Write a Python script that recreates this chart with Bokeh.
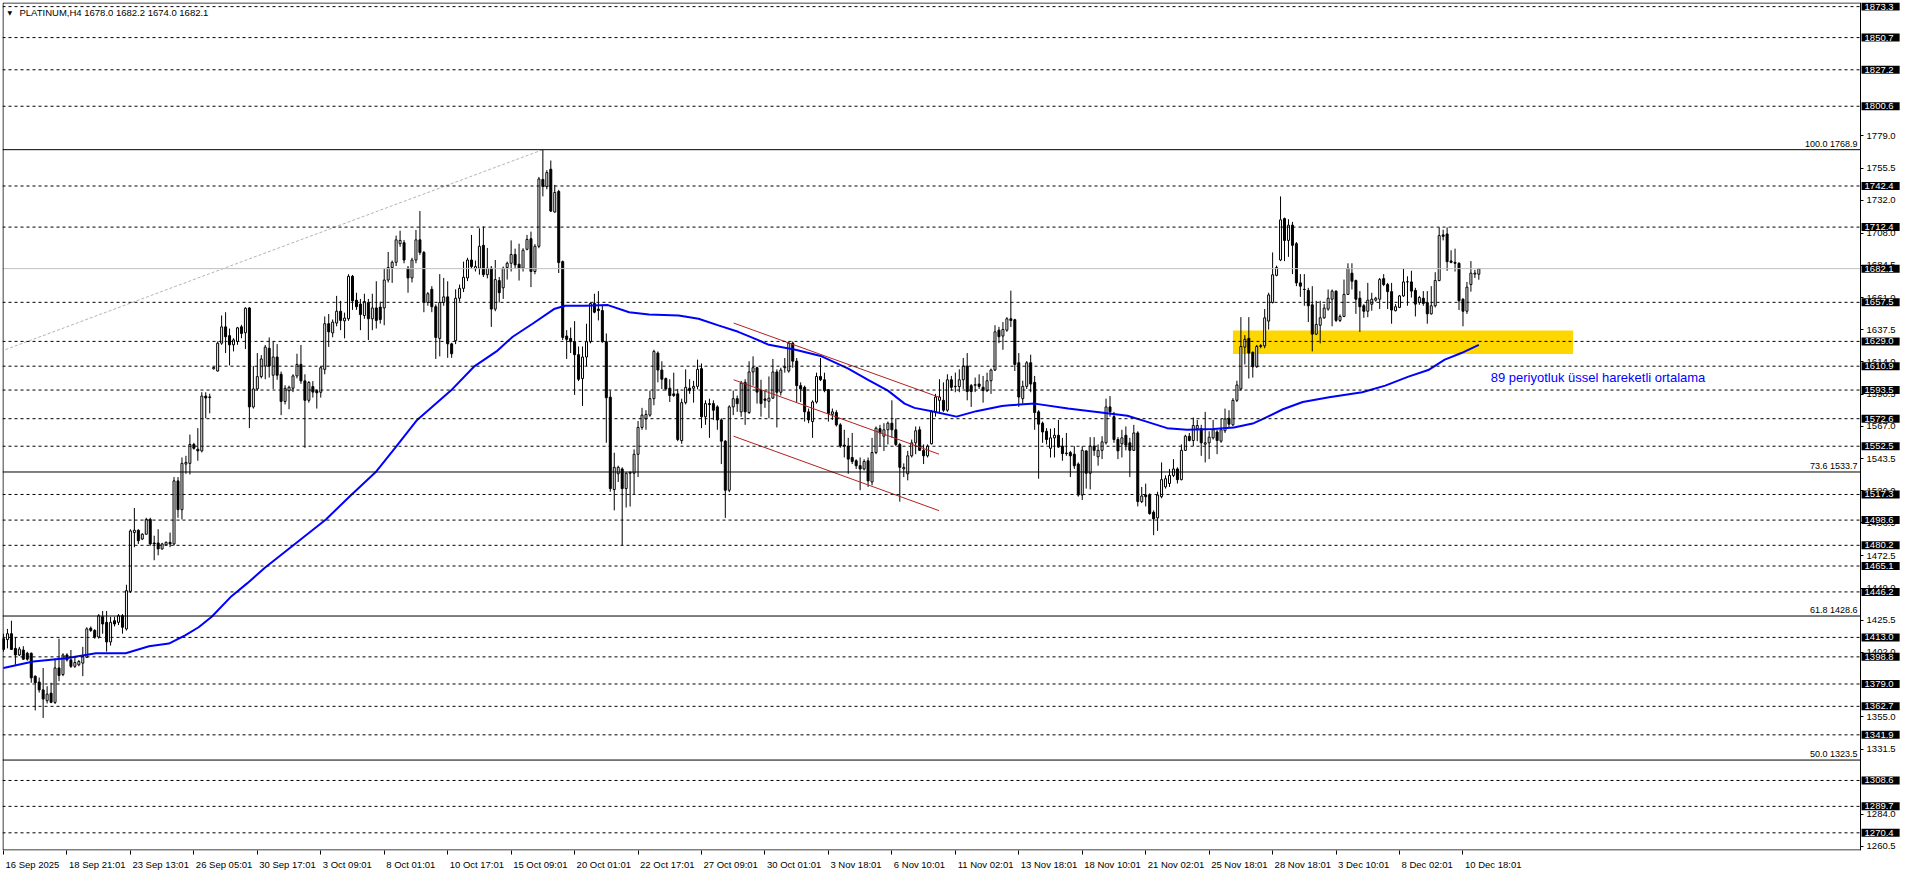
from bokeh.plotting import figure
from bokeh.models import Range1d, FixedTicker, Label
from bokeh.embed import file_html
from bokeh.resources import INLINE

# ---------------- data (PLATINUM, H4) ----------------
opens = [
1412.1,1411.4,1415.7,1405.0,1400.2,1403.8,1401.4,1401.4,1384.7,1380.4,
1374.7,1366.8,1372.3,1365.6,1390.7,1385.9,1400.2,1396.6,1391.9,1393.0,
1394.2,1398.5,1419.7,1418.1,1413.3,1428.1,1424.0,1409.7,1425.2,1424.0,
1428.8,1419.2,1446.6,1489.5,1491.2,1484.8,1488.3,1499.1,1481.9,1481.9,
1477.6,1480.5,1482.4,1481.2,1527.2,1506.2,1539.5,1540.0,1553.8,1550.3,
1549.1,1589.1,1588.0,1609.0,1607.4,1627.7,1639.6,1633.2,1626.5,1628.9,
1639.6,1635.3,1653.4,1581.2,1594.3,1603.3,1611.0,1624.0,1604.3,1617.6,
1605.0,1585.2,1593.0,1594.8,1603.8,1612.2,1600.2,1586.0,1596.0,1593.0,
1591.9,1608.6,1641.9,1635.2,1642.4,1651.0,1644.0,1645.5,1676.5,1659.0,
1656.2,1647.9,1657.4,1645.5,1653.4,1654.0,1653.4,1673.8,1682.9,1686.7,
1700.3,1701.0,1682.4,1675.3,1688.4,1703.1,1693.9,1657.4,1667.0,1654.3,
1631.2,1657.4,1661.5,1627.2,1629.5,1660.5,1667.7,1675.3,1688.4,1682.0,
1682.4,1699.1,1677.7,1682.4,1652.6,1673.4,1668.1,1682.9,1686.0,1692.4,
1685.3,1682.4,1696.2,1703.9,1680.0,1698.4,1747.2,1742.0,1754.6,1723.4,
1738.4,1687.2,1632.9,1631.2,1628.8,1619.3,1601.9,1617.6,1628.8,1656.7,
1652.6,1651.5,1628.8,1588.3,1520.9,1532.4,1535.9,1521.6,1532.8,1532.8,
1546.6,1566.2,1572.4,1575.2,1587.2,1620.5,1608.1,1601.9,1594.8,1590.7,
1590.7,1556.6,1584.3,1594.8,1594.8,1596.2,1609.1,1574.0,1583.6,1583.6,
1581.2,1571.7,1556.2,1520.4,1581.2,1587.2,1577.6,1599.1,1577.1,1606.7,
1609.8,1593.1,1587.0,1585.3,1587.6,1606.7,1591.9,1609.8,1607.4,1627.7,
1614.6,1596.7,1595.5,1577.6,1570.5,1584.8,1603.4,1601.0,1593.8,1575.8,
1577.1,1568.1,1553.3,1552.6,1544.3,1541.9,1538.3,1535.9,1541.9,1526.4,
1547.9,1565.3,1559.8,1564.5,1569.3,1564.5,1553.8,1536.0,1532.4,1545.5,
1555.0,1564.5,1549.5,1545.5,1554.3,1577.1,1586.0,1586.0,1578.8,1601.0,
1596.0,1596.0,1601.0,1611.0,1596.7,1597.0,1597.9,1595.5,1593.1,1600.3,
1608.1,1637.2,1632.9,1637.2,1645.5,1644.8,1613.4,1587.2,1596.2,1613.4,
1599.1,1577.6,1569.3,1563.4,1551.0,1558.6,1560.5,1552.6,1547.1,1547.9,
1546.7,1539.5,1516.9,1549.1,1532.8,1552.6,1544.8,1549.5,1555.0,1581.2,
1574.1,1557.4,1554.3,1560.5,1555.0,1549.5,1562.2,1512.1,1516.9,1516.9,
1504.3,1500.2,1515.7,1522.9,1525.3,1531.2,1535.9,1528.1,1549.5,1559.8,
1556.7,1565.3,1565.3,1554.0,1555.0,1558.6,1562.9,1556.2,1563.8,1572.9,
1568.1,1586.0,1594.3,1624.8,1631.2,1621.0,1610.5,1625.3,1625.7,1643.8,
1657.4,1677.2,1688.4,1718.6,1702.7,1713.8,1700.3,1671.7,1667.0,1666.2,
1655.7,1634.3,1640.8,1646.2,1652.6,1659.8,1665.7,1644.3,1647.2,1663.3,
1678.8,1673.4,1660.5,1655.0,1651.0,1656.1,1659.1,1659.8,1674.8,1670.5,
1665.3,1651.4,1653.8,1662.2,1672.4,1672.4,1666.2,1657.4,1660.5,1657.4,
1649.1,1655.0,1673.4,1706.7,1707.4,1687.7,1686.7,1686.0,1659.8,1651.0,
1670.5,1678.1,1678.0]

highs = [
1415.7,1419.2,1425.2,1413.3,1406.1,1406.6,1402.5,1402.0,1385.2,1383.7,
1390.7,1377.4,1379.9,1397.8,1412.1,1401.4,1401.4,1403.8,1398.9,1396.5,
1406.1,1420.4,1421.0,1419.0,1430.0,1432.3,1432.3,1428.0,1428.0,1430.0,
1430.0,1451.4,1491.9,1507.4,1491.9,1489.0,1500.3,1500.3,1487.2,1491.9,
1482.0,1483.0,1489.5,1530.0,1530.0,1544.3,1545.5,1561.0,1555.0,1565.7,
1591.9,1591.9,1590.8,1610.5,1628.9,1647.9,1650.3,1638.4,1631.3,1639.6,
1641.1,1653.9,1654.0,1611.0,1620.5,1619.0,1626.4,1631.9,1628.8,1627.0,
1607.0,1597.0,1596.7,1605.0,1620.0,1626.4,1605.0,1600.0,1600.0,1594.0,
1611.0,1647.2,1649.0,1645.0,1662.2,1658.6,1650.0,1678.0,1677.5,1664.5,
1660.0,1663.8,1660.0,1663.8,1672.9,1658.0,1682.4,1694.3,1688.0,1706.2,
1709.8,1703.0,1684.0,1690.0,1710.3,1724.1,1695.0,1665.0,1669.3,1656.0,
1678.1,1675.3,1672.9,1628.0,1667.0,1670.5,1687.2,1690.0,1706.7,1688.0,
1711.5,1712.9,1697.2,1684.0,1688.4,1676.0,1683.6,1687.2,1702.7,1696.7,
1700.3,1697.0,1706.7,1709.1,1700.0,1749.0,1768.9,1754.0,1761.0,1743.2,
1739.6,1688.0,1637.2,1639.1,1643.8,1625.3,1625.3,1641.9,1657.4,1663.8,
1665.7,1655.0,1634.8,1593.1,1547.8,1538.3,1537.1,1533.5,1534.0,1550.2,
1570.9,1580.5,1578.8,1593.1,1622.9,1621.7,1614.5,1602.6,1601.4,1606.2,
1594.3,1587.2,1608.6,1601.4,1600.2,1615.7,1612.9,1586.0,1587.2,1586.0,
1582.4,1572.9,1557.0,1582.4,1593.1,1589.5,1600.2,1601.4,1614.5,1618.1,
1610.5,1601.0,1593.0,1603.4,1616.2,1608.6,1609.8,1616.9,1628.9,1628.9,
1616.9,1599.1,1596.7,1580.0,1586.0,1606.2,1616.9,1606.2,1594.3,1580.0,
1578.8,1569.3,1564.5,1558.6,1562.2,1543.0,1544.3,1543.0,1544.3,1558.6,
1566.9,1568.1,1569.3,1570.5,1586.0,1572.9,1555.0,1540.0,1549.1,1557.4,
1566.9,1566.9,1553.8,1553.8,1578.8,1590.7,1601.4,1599.1,1605.0,1603.8,
1606.2,1608.6,1616.9,1620.5,1597.9,1602.6,1605.0,1603.8,1606.2,1609.1,
1640.8,1639.6,1643.1,1646.7,1666.0,1645.5,1620.5,1600.3,1614.6,1619.3,
1603.8,1578.8,1570.5,1565.7,1565.3,1565.7,1571.7,1558.6,1562.2,1549.1,
1552.6,1540.7,1552.6,1549.5,1559.1,1559.1,1553.8,1559.8,1587.2,1589.1,
1577.6,1559.1,1564.5,1566.9,1558.6,1568.1,1563.4,1522.8,1525.2,1518.1,
1505.7,1519.3,1540.7,1531.2,1535.9,1543.1,1537.1,1553.8,1560.9,1562.2,
1573.4,1571.7,1568.1,1577.6,1563.4,1571.7,1564.5,1572.4,1580.0,1578.8,
1587.6,1600.3,1646.7,1633.6,1646.7,1621.7,1626.4,1627.0,1652.6,1664.5,
1693.9,1684.3,1734.8,1719.3,1718.1,1716.2,1701.5,1678.1,1678.1,1668.1,
1669.3,1658.6,1658.6,1656.2,1666.9,1666.9,1666.2,1648.6,1674.1,1686.0,
1686.0,1674.1,1665.7,1656.2,1671.7,1664.5,1661.5,1675.3,1678.1,1671.7,
1671.7,1656.2,1662.9,1681.9,1676.5,1680.5,1668.1,1662.2,1665.7,1665.7,
1669.3,1679.5,1712.2,1710.5,1712.2,1695.5,1696.7,1686.7,1660.5,1672.4,
1687.6,1681.2,1682.2]

lows = [
1402.5,1405.0,1403.8,1393.0,1399.4,1396.6,1396.0,1379.9,1359.7,1372.7,
1354.2,1364.8,1365.0,1364.4,1381.1,1384.7,1395.4,1390.7,1390.7,1392.0,
1384.7,1398.0,1417.0,1412.0,1412.1,1415.7,1402.6,1407.0,1421.0,1422.0,
1415.7,1418.0,1445.4,1478.8,1481.2,1484.0,1488.0,1479.9,1469.3,1472.9,
1477.0,1480.0,1478.8,1480.0,1500.3,1499.1,1532.4,1531.9,1550.0,1541.9,
1548.0,1572.9,1576.5,1608.5,1607.0,1626.5,1620.5,1611.5,1621.7,1626.5,
1631.3,1623.4,1565.7,1580.0,1593.0,1602.0,1601.4,1602.6,1594.3,1601.0,
1575.2,1583.0,1579.5,1592.0,1602.0,1598.0,1551.4,1584.3,1588.0,1580.0,
1588.0,1605.0,1625.0,1632.0,1640.0,1637.2,1631.2,1644.0,1652.0,1652.0,
1637.2,1645.5,1630.0,1637.2,1638.4,1642.0,1640.8,1672.0,1671.7,1684.0,
1698.0,1686.0,1664.5,1672.0,1686.0,1692.0,1650.3,1655.0,1650.3,1616.2,
1618.1,1655.0,1617.0,1617.0,1627.0,1658.0,1665.0,1673.0,1682.0,1680.0,
1677.7,1676.0,1675.0,1639.6,1651.0,1657.4,1660.0,1674.1,1680.0,1682.4,
1673.4,1680.0,1695.5,1668.6,1678.0,1697.0,1734.8,1740.0,1723.4,1723.0,
1678.9,1630.0,1616.2,1620.5,1590.0,1600.0,1581.9,1611.0,1627.6,1649.5,
1644.3,1628.0,1555.0,1519.3,1505.7,1526.4,1480.0,1507.8,1508.5,1516.9,
1530.0,1564.5,1564.5,1574.0,1582.4,1599.1,1594.3,1593.0,1584.8,1588.5,
1556.2,1554.3,1583.0,1590.7,1584.3,1594.0,1565.7,1568.1,1558.6,1571.7,
1564.5,1539.5,1500.2,1519.0,1575.2,1577.6,1574.0,1568.1,1576.0,1596.7,
1583.6,1574.1,1580.5,1572.9,1587.0,1566.2,1589.5,1606.2,1606.2,1609.8,
1584.8,1584.8,1570.5,1569.3,1558.6,1583.6,1600.0,1591.9,1570.5,1571.7,
1566.9,1551.4,1544.3,1532.4,1539.5,1535.9,1520.4,1534.8,1522.8,1524.0,
1546.7,1552.6,1549.1,1553.8,1558.6,1552.6,1512.1,1530.0,1527.6,1544.3,
1546.7,1549.0,1539.5,1544.3,1553.8,1574.1,1576.4,1577.6,1577.6,1593.1,
1591.9,1591.9,1594.3,1586.0,1581.2,1592.0,1594.3,1584.3,1592.0,1590.7,
1607.4,1627.7,1622.9,1636.0,1639.5,1607.4,1581.2,1583.6,1594.3,1591.9,
1564.5,1528.8,1555.0,1553.8,1544.3,1544.3,1551.4,1541.9,1545.5,1530.0,
1536.0,1515.7,1513.3,1521.6,1521.0,1545.5,1538.3,1543.1,1553.8,1574.1,
1555.0,1543.1,1544.3,1549.5,1530.0,1549.0,1508.6,1511.0,1508.6,1502.6,
1487.6,1490.7,1514.5,1521.6,1522.8,1530.0,1525.3,1527.6,1549.0,1556.0,
1552.6,1556.2,1545.5,1540.7,1543.1,1557.4,1546.7,1555.0,1562.2,1566.0,
1567.0,1584.8,1593.1,1612.2,1601.9,1602.6,1609.8,1624.0,1624.0,1637.6,
1656.7,1676.5,1687.6,1687.6,1690.7,1678.1,1669.3,1661.5,1655.0,1643.1,
1621.7,1633.6,1627.6,1645.5,1651.4,1640.0,1643.1,1643.1,1646.7,1662.9,
1666.9,1649.1,1635.9,1646.2,1646.7,1651.4,1658.0,1652.6,1669.3,1652.6,
1641.9,1650.9,1653.3,1661.5,1655.0,1661.0,1647.2,1655.7,1655.0,1641.9,
1648.6,1653.8,1672.9,1702.7,1680.5,1686.0,1680.0,1651.9,1640.0,1649.1,
1665.3,1675.3,1674.0]

closes = [
1404.2,1415.7,1404.2,1400.2,1404.5,1397.1,1397.1,1383.5,1379.9,1374.7,
1368.0,1371.6,1365.6,1390.7,1385.2,1400.2,1396.6,1391.9,1394.7,1395.4,
1399.0,1419.2,1418.1,1413.3,1428.8,1422.8,1409.7,1424.0,1422.8,1428.8,
1420.4,1447.1,1490.7,1491.2,1483.6,1488.3,1499.1,1481.2,1481.2,1477.6,
1481.2,1482.4,1481.2,1527.2,1506.2,1540.0,1540.7,1553.8,1551.0,1549.1,
1589.1,1587.7,1588.5,1610.0,1627.7,1639.6,1632.4,1626.5,1630.1,1638.9,
1634.8,1653.2,1581.2,1594.3,1603.3,1616.2,1624.8,1611.0,1617.6,1604.3,
1585.2,1594.8,1595.5,1603.8,1612.2,1600.2,1586.0,1599.1,1592.0,1591.5,
1609.8,1641.9,1636.0,1643.1,1651.0,1644.3,1646.0,1676.5,1658.6,1654.3,
1648.6,1658.1,1645.5,1653.4,1644.3,1645.0,1673.8,1682.9,1686.7,1703.1,
1702.7,1688.4,1675.3,1688.4,1703.1,1693.9,1657.4,1663.8,1654.3,1631.9,
1657.4,1661.5,1627.2,1620.0,1660.5,1667.7,1675.8,1688.4,1683.6,1683.6,
1698.4,1677.7,1682.4,1652.6,1674.1,1664.5,1682.4,1686.0,1692.4,1684.8,
1682.4,1695.5,1703.4,1680.0,1698.4,1747.5,1742.0,1752.2,1724.1,1737.7,
1686.5,1631.9,1630.5,1628.8,1619.3,1601.4,1617.6,1628.8,1656.7,1650.3,
1651.5,1628.8,1587.9,1521.6,1537.1,1537.1,1521.6,1532.8,1533.5,1546.6,
1566.2,1575.2,1575.7,1587.2,1621.7,1608.1,1601.4,1594.3,1589.5,1589.5,
1557.4,1584.3,1595.5,1593.1,1596.2,1608.6,1574.0,1583.6,1582.9,1578.8,
1571.7,1556.2,1520.4,1581.2,1587.2,1583.6,1598.6,1577.6,1606.7,1609.8,
1592.0,1583.6,1586.0,1587.6,1606.7,1591.9,1608.1,1610.5,1627.7,1614.6,
1596.7,1594.3,1577.6,1571.7,1584.8,1603.4,1601.0,1593.1,1576.4,1577.6,
1568.1,1552.6,1552.6,1543.1,1541.4,1538.3,1535.9,1541.4,1527.2,1547.9,
1565.7,1562.2,1564.5,1569.3,1564.5,1553.8,1537.1,1537.0,1545.5,1555.0,
1563.8,1549.5,1545.5,1552.6,1577.6,1588.4,1588.4,1578.8,1601.0,1595.5,
1596.2,1601.0,1611.0,1592.4,1592.4,1597.4,1596.2,1593.1,1600.3,1608.1,
1636.0,1632.4,1637.7,1645.5,1644.3,1612.2,1588.4,1596.2,1613.4,1597.9,
1577.1,1568.6,1562.9,1557.4,1558.6,1560.5,1551.9,1547.1,1547.5,1545.5,
1538.3,1516.9,1549.5,1532.8,1552.6,1549.5,1549.5,1555.7,1581.2,1577.6,
1557.4,1549.1,1558.6,1553.3,1549.5,1562.2,1512.1,1516.2,1515.7,1503.3,
1499.5,1516.9,1528.1,1528.8,1531.2,1535.9,1528.1,1549.5,1559.8,1556.7,
1567.6,1567.6,1555.0,1555.0,1559.1,1564.5,1556.7,1564.5,1572.4,1568.6,
1586.0,1597.2,1625.3,1630.5,1620.5,1610.5,1625.3,1626.0,1646.2,1662.9,
1677.6,1682.9,1717.7,1702.7,1713.8,1699.1,1671.7,1669.3,1666.9,1655.0,
1634.3,1641.4,1646.2,1653.3,1660.5,1665.7,1644.3,1647.2,1663.3,1682.4,
1672.9,1659.8,1654.3,1651.0,1659.1,1659.8,1660.5,1674.1,1670.5,1665.3,
1651.9,1654.3,1662.2,1672.4,1672.5,1665.7,1656.2,1661.0,1656.7,1649.1,
1655.0,1673.4,1706.2,1705.7,1687.2,1686.7,1686.0,1658.6,1651.0,1668.6,
1678.8,1678.8,1682.1]

# 89-period EMA (bar index, value)
ema_idx = [0, 7.5, 15.8, 23.3, 30.8, 36.7, 41.7, 45.8, 49.2, 52.5, 57.5, 61.5, 65.9, 73, 81.3,
           87.2, 93.8, 98.8, 104.3, 112.8, 118.8, 124.3, 128.4, 133.4, 138.8, 141.6, 146.6,
           152.4, 157.75, 162.75, 170.25, 175.25, 180.25, 185.25, 189.25, 193, 199.7, 206.3,
           213, 218, 223, 227.2, 229.7, 234.7, 240.3, 245.3, 251.75, 253.7, 260, 268.4,
           276.75, 283.4, 287.6, 293.4, 298.4, 305.1, 310.25, 315.25, 317.6, 322.6, 327.6,
           334.25, 342.6, 348.4, 354.25, 359.25, 363.4, 367.6, 372]
ema_val = [1390.7, 1395.4, 1397.8, 1401.4, 1401.4, 1406.6, 1408.5, 1414.5, 1420.4, 1428.1,
           1443.1, 1452.6, 1463.8, 1480.0, 1499.0, 1515.7, 1533.5, 1551.4, 1571.7, 1593.1,
           1611.0, 1621.7, 1632.4, 1641.9, 1652.6, 1655.0, 1655.0, 1655.5, 1650.3, 1648.6,
           1647.9, 1645.5, 1640.7, 1636.0, 1631.2, 1626.5, 1622.9, 1618.1, 1609.1, 1601.0,
           1593.1, 1583.6, 1580.5, 1577.6, 1574.1, 1578.1, 1581.9, 1582.4, 1583.6, 1580.0,
           1577.2, 1574.8, 1571.0, 1565.7, 1564.5, 1565.0, 1566.2, 1569.3, 1572.4, 1579.5,
           1584.8, 1588.3, 1591.9, 1596.7, 1603.3, 1608.1, 1615.7, 1620.5, 1626.4]

dashed_levels = [1873.3, 1850.7, 1827.2, 1800.6, 1742.4, 1712.4, 1657.5, 1629.0, 1610.9,
                 1593.5, 1572.6, 1552.5, 1517.3, 1498.6, 1480.2, 1465.1, 1446.2, 1413.0,
                 1398.8, 1379.0, 1362.7, 1341.9, 1308.6, 1289.7, 1270.4]
fib_levels = [1768.9, 1533.7, 1428.6, 1323.5]
fib_pct = ["100.0", "73.6", "61.8", "50.0"]
bid_price = 1682.1

# price-scale ticks (those fully hidden by level boxes are left out)
y_ticks = [1260.5, 1284.0, 1331.5, 1355.0, 1402.0, 1425.5, 1449.0, 1472.5,
           1496.5, 1520.0, 1543.5, 1567.0, 1590.5, 1614.0, 1637.5, 1661.0, 1684.5, 1708.0,
           1732.0, 1755.5, 1779.0]

date_idx = [0, 16, 32, 48, 64, 80, 96, 112, 128, 144, 160, 176, 192, 208, 224, 240, 256,
            272, 288, 304, 320, 336, 352, 368]
date_labels = ["16 Sep 2025", "18 Sep 21:01", "23 Sep 13:01", "26 Sep 05:01", "30 Sep 17:01",
               "3 Oct 09:01", "8 Oct 01:01", "10 Oct 17:01", "15 Oct 09:01", "20 Oct 01:01",
               "22 Oct 17:01", "27 Oct 09:01", "30 Oct 01:01", "3 Nov 18:01", "6 Nov 10:01",
               "11 Nov 02:01", "13 Nov 18:01", "18 Nov 10:01", "21 Nov 02:01", "25 Nov 18:01",
               "28 Nov 18:01", "3 Dec 10:01", "8 Dec 02:01", "10 Dec 18:01"]

trend_x = [0.5, 136]
trend_y = [1623.0, 1768.9]
chan_x = [184.1, 235.9]
chan_upper = [1642.4, 1588.3]
chan_mid = [1601.0, 1546.7]
chan_low = [1559.8, 1505.5]
zone_x = [310, 395.75]
zone_y = [1619.8, 1636.9]
ema_text = "89 periyotluk üssel hareketli ortalama"
ema_text_pos = [375, 1602.6]
header_text = "PLATINUM,H4  1678.0 1682.2 1674.0 1682.1"

# ---------------- layout constants ----------------
FONT = "Liberation Sans"
W, H = 1900, 872
BORDER_L, BORDER_T, AXIS_H = 2, 2, 20
FRAME_W = W - BORDER_L
FRAME_H = H - BORDER_T - AXIS_H
PXB = 3.966                      # pixels per bar
X0, X_AXIS = -0.25, 468.25       # chart area in bar units; price scale column to the right
X_END = X0 + FRAME_W / PXB
Y0, Y1 = 1257.5, 1876.3
PXU = FRAME_H / (Y1 - Y0)

p = figure(width=W, height=H, x_range=Range1d(X0, X_END), y_range=Range1d(Y0, Y1),
           output_backend="svg", toolbar_location=None, y_axis_location="right",
           background_fill_color="white", border_fill_color="white")
p.grid.visible = False
p.outline_line_color = None
p.min_border_left = BORDER_L
p.min_border_top = BORDER_T
p.min_border_right = 0
p.min_border_bottom = 0

# support zone
p.quad(left=[zone_x[0]], right=[zone_x[1]], bottom=[zone_y[0]], top=[zone_y[1]],
       fill_color="#FFD700", line_color=None)

# candles
N = len(closes)
idx = list(range(N))
hi = [max(highs[i], opens[i], closes[i]) for i in idx]
lo = [min(lows[i], opens[i], closes[i]) for i in idx]
up = [i for i in idx if closes[i] >= opens[i]]
dn = [i for i in idx if closes[i] < opens[i]]

p.segment(x0=idx, y0=lo, x1=idx, y1=hi, line_color="black", line_width=1)
p.vbar(x=dn, top=[opens[i] for i in dn], bottom=[closes[i] for i in dn], width=0.5,
       fill_color="black", line_color="black", line_width=1)
p.vbar(x=up, top=[closes[i] for i in up], bottom=[opens[i] for i in up], width=0.5,
       fill_color="white", line_color="black", line_width=1)

# EMA
p.line(ema_idx, ema_val, line_color="#0000FF", line_width=2)

# trend line and channel
p.line(trend_x, trend_y, line_color="#B4B4B4", line_width=1, line_dash="3 2")
for ys in (chan_upper, chan_mid, chan_low):
    p.line(chan_x, ys, line_color="#B22222", line_width=1)

# horizontal levels (chart area only)
n_d = len(dashed_levels)
p.segment(x0=[X0] * n_d, x1=[X_AXIS] * n_d, y0=dashed_levels, y1=dashed_levels,
          line_color="black", line_width=1, line_dash="3 3")
n_f = len(fib_levels)
p.segment(x0=[X0] * n_f, x1=[X_AXIS] * n_f, y0=fib_levels, y1=fib_levels,
          line_color="black", line_width=1)
p.segment(x0=[X0], x1=[X_AXIS], y0=[bid_price], y1=[bid_price],
          line_color="#C0C0C0", line_width=1)

# chart border (left, top, bottom)
xl = X0 + 0.5 / PXB
yt = Y1 - 0.5 / PXU
yb = Y0 + 0.5 / PXU
p.segment(x0=[xl, xl, xl], x1=[xl, X_AXIS, X_AXIS], y0=[yb, yt, yb], y1=[yt, yt, yb],
          line_color="black", line_width=1)

# fib labels
for lv, pc in zip(fib_levels, fib_pct):
    p.add_layout(Label(x=X_AXIS, y=lv, x_offset=-3, y_offset=1, text=f"{pc} {lv:.1f}",
                       text_align="right", text_baseline="bottom", text_font=FONT,
                       text_font_size="9px", text_color="black"))

# EMA caption
p.add_layout(Label(x=ema_text_pos[0], y=ema_text_pos[1], text=ema_text, text_align="left",
                   text_baseline="middle", text_font=FONT, text_font_size="13px",
                   text_color="#0000FF"))

# header
p.add_layout(Label(x=X0, y=Y1, x_offset=5, y_offset=-6, text="▼", text_font="DejaVu Sans",
                   text_font_size="6px", text_baseline="top", text_color="black"))
p.add_layout(Label(x=X0, y=Y1, x_offset=17, y_offset=-4, text=header_text, text_font=FONT,
                   text_font_size="9.5px", text_baseline="top", text_color="black"))

# price scale: right axis drawn at the edge of the chart area
yax = p.yaxis[0]
yax.fixed_location = X_AXIS
yax.ticker = FixedTicker(ticks=y_ticks)
yax.major_label_overrides = {t: f"{t:.1f}" for t in y_ticks}
yax.major_label_text_font = FONT
yax.major_label_text_font_size = "9.5px"
yax.major_label_text_color = "black"
yax.major_tick_out = 3
yax.major_tick_in = 0
yax.minor_tick_line_color = None
yax.major_label_standoff = 3
yax.axis_line_color = "black"
yax.major_tick_line_color = "black"

# time scale: tick marks at bars (minor ticks), labels to the right of them
CW = {' ': 2.78, ':': 2.78, 'S': 6.67, 'e': 5.56, 'p': 5.56, 'O': 7.78, 'c': 5.0, 't': 2.78,
      'N': 7.22, 'o': 5.56, 'v': 5.0, 'D': 7.22}
fs = 9.5
centers = []
for i, s in zip(date_idx, date_labels):
    w = sum(CW.get(ch, 5.56) for ch in s) * fs / 10.0
    centers.append(round(i + (2 + w / 2) / PXB, 3))
xax = p.xaxis[0]
xax.ticker = FixedTicker(ticks=centers, minor_ticks=date_idx)
xax.major_label_overrides = {c: s for c, s in zip(centers, date_labels)}
xax.major_tick_line_color = None
xax.major_tick_out = 0
xax.major_tick_in = 0
xax.minor_tick_line_color = "black"
xax.minor_tick_out = 4
xax.minor_tick_in = 0
xax.major_label_standoff = 4
xax.major_label_text_font = FONT
xax.major_label_text_font_size = f"{fs}px"
xax.major_label_text_color = "black"
xax.axis_line_color = None

# boxed price labels on the price scale (drawn above the axis)
def box_label(val):
    kw = dict(x=X_AXIS, y=val, x_offset=1, text=f"{val:.1f}", text_align="left",
              text_baseline="middle", text_font=FONT, text_font_size="9.5px",
              text_color="white", background_fill_color="black", level="overlay")
    try:
        return Label(padding=dict(left=3, right=6, top=1, bottom=1), **kw)
    except Exception:
        return Label(padding=1, **kw)

for lv in dashed_levels + [bid_price]:
    p.add_layout(box_label(lv))

open("out.html", "w").write(file_html(p, INLINE))
